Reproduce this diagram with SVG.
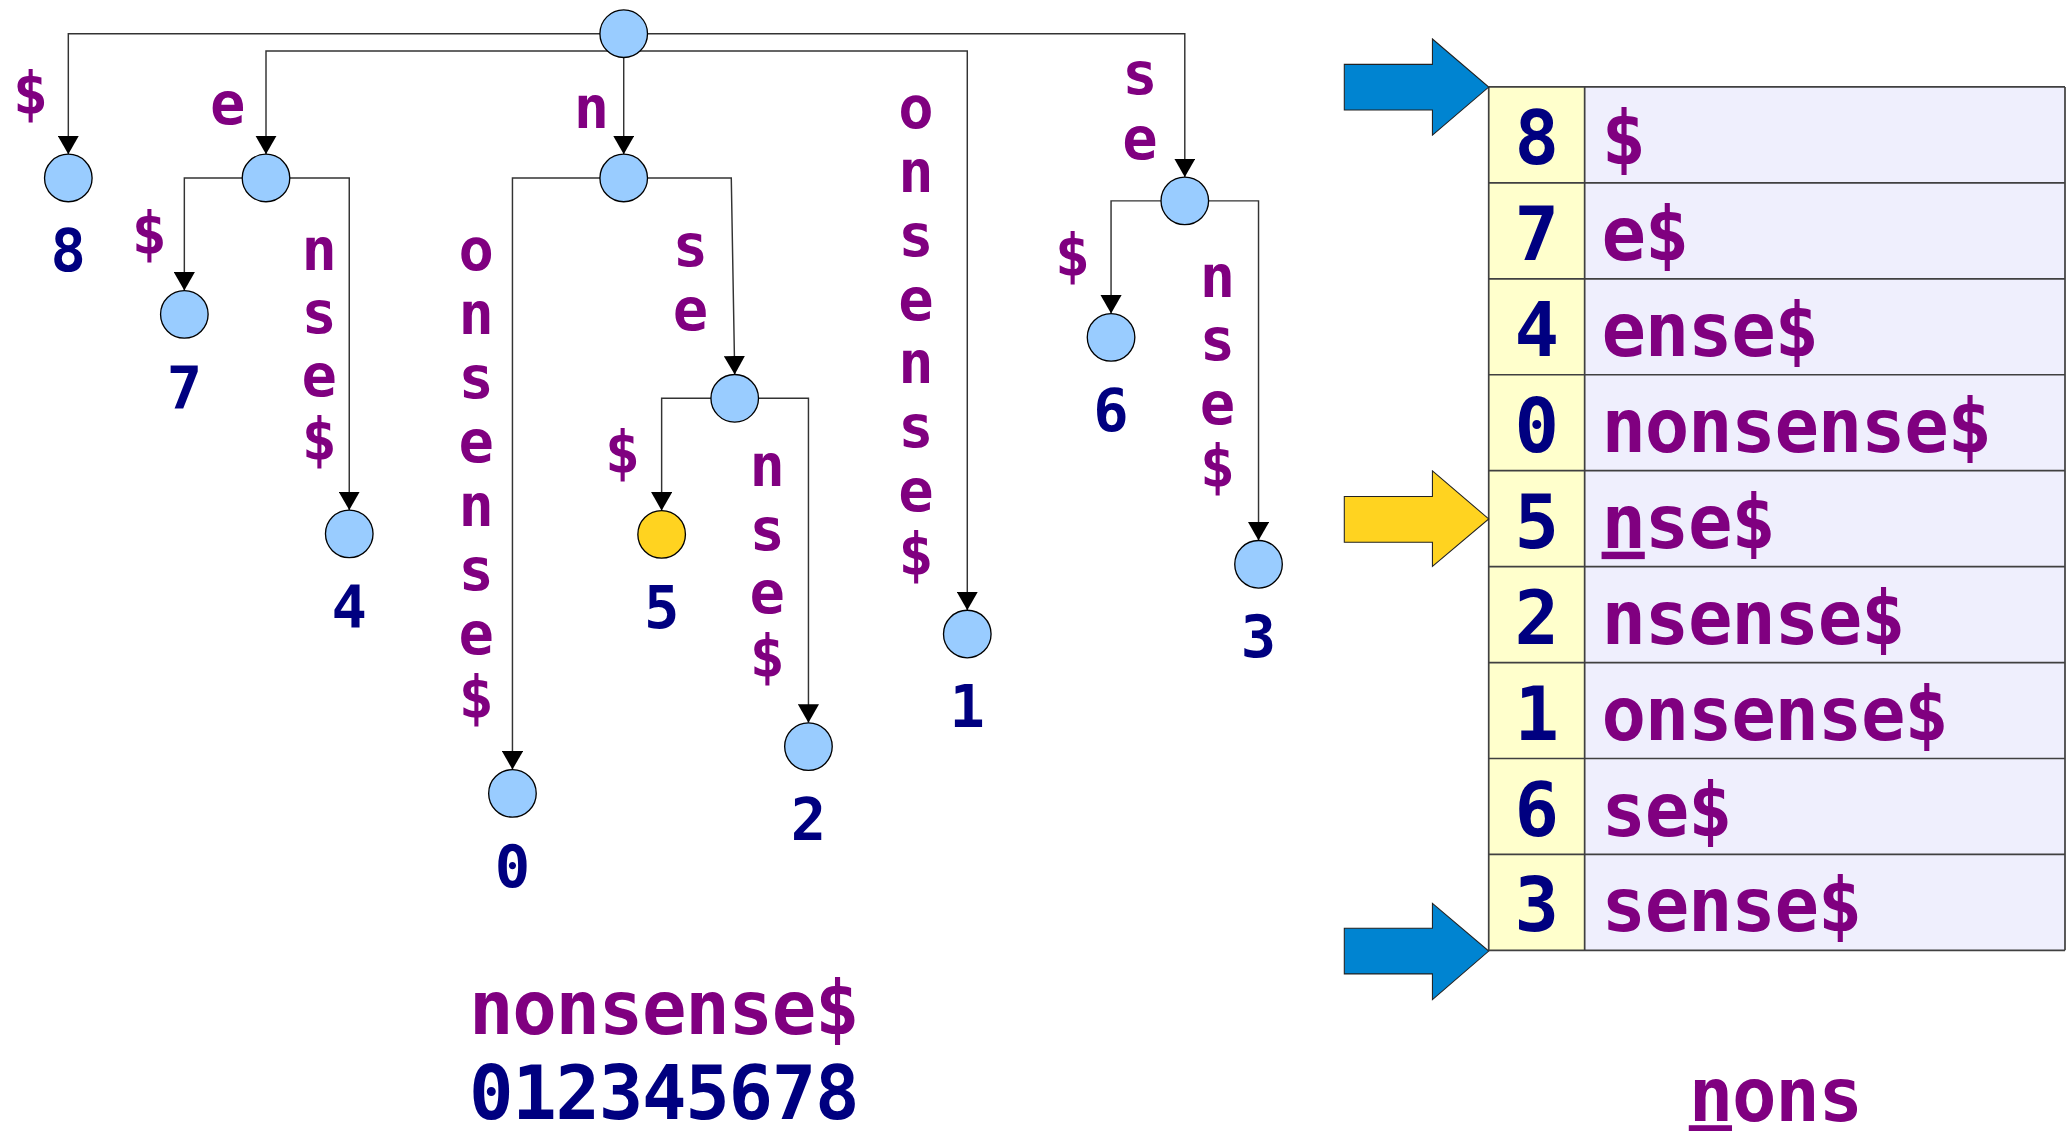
<svg xmlns="http://www.w3.org/2000/svg" width="2072" height="1131" viewBox="0 0 2072 1131">
<style>
text{font-family:"DejaVu Sans Mono","Liberation Mono",monospace;font-weight:bold}
.lbl{fill:#800080;font-size:44.5px;text-anchor:middle}
.num{fill:#000080;font-size:44.5px;text-anchor:middle}
.tnum{fill:#000080;font-size:56px;text-anchor:middle}
.ttxt{fill:#800080;font-size:56px;letter-spacing:-1px}
.big{font-size:56px;letter-spacing:-1px}
.pur{fill:#800080}
.nav{fill:#000080}
.node circle{fill:#99CCFF;stroke:#000;stroke-width:1}
.hl circle{fill:#FFD320}
.edge{fill:none;stroke:#333;stroke-width:1.1;marker-end:url(#ah)}
.grid{stroke:#404040;stroke-width:1.3;fill:none}
.arr{stroke:#222;stroke-width:0.8}
.ul{text-decoration:underline}
</style>
<defs>
<marker id="ah" markerUnits="userSpaceOnUse" markerWidth="14" markerHeight="16" viewBox="0 0 14 16" refX="14" refY="8" orient="auto">
<path d="M0,0 L14,8 L0,16 z" fill="#000"/>
</marker>
</defs>
<rect width="2072" height="1131" fill="#fff"/>
<g transform="scale(1.32143)">
<g id="connectors">
<path class="edge" d="M472,25.5 H51.7 V116.7"/>
<path class="edge" d="M472,38.6 H201.3 V116.7"/>
<path class="edge" d="M472,25.5 V116.7"/>
<path class="edge" d="M472,38.6 H732 V461.8"/>
<path class="edge" d="M472,25.5 H896.6 V134"/>
<path class="edge" d="M201.3,134.7 H139.5 V219.9"/>
<path class="edge" d="M201.3,134.7 H264.3 V386"/>
<path class="edge" d="M472,134.7 H387.8 V582.4"/>
<path class="edge" d="M472,134.7 H553.4 L556,283.4"/>
<path class="edge" d="M556,301.4 H500.7 V386.4"/>
<path class="edge" d="M556,301.4 H611.8 V547"/>
<path class="edge" d="M896.6,152 H840.8 V237.3"/>
<path class="edge" d="M896.6,152 H952.4 V409"/>
</g>
<g id="edge-labels">
<text class="lbl" x="23" y="86">$</text>
<text class="lbl" x="172.3" y="93.5">e</text>
<text class="lbl" x="447.6" y="97">n</text>
<text class="lbl" x="113" y="192">$</text>
<text class="lbl" y="204"><tspan x="241.5">n</tspan><tspan x="241.5" dy="48">s</tspan><tspan x="241.5" dy="48">e</tspan><tspan x="241.5" dy="48">$</tspan></text>
<text class="lbl" y="204"><tspan x="360.4">o</tspan><tspan x="360.4" dy="48.5">n</tspan><tspan x="360.4" dy="48.5">s</tspan><tspan x="360.4" dy="48.5">e</tspan><tspan x="360.4" dy="48.5">n</tspan><tspan x="360.4" dy="48.5">s</tspan><tspan x="360.4" dy="48.5">e</tspan><tspan x="360.4" dy="48.5">$</tspan></text>
<text class="lbl" y="201"><tspan x="522.5">s</tspan><tspan x="522.5" dy="48.5">e</tspan></text>
<text class="lbl" x="471" y="358">$</text>
<text class="lbl" y="367.8"><tspan x="580.5">n</tspan><tspan x="580.5" dy="48.2">s</tspan><tspan x="580.5" dy="48.2">e</tspan><tspan x="580.5" dy="48.2">$</tspan></text>
<text class="lbl" y="97"><tspan x="693.2">o</tspan><tspan x="693.2" dy="48.3">n</tspan><tspan x="693.2" dy="48.3">s</tspan><tspan x="693.2" dy="48.3">e</tspan><tspan x="693.2" dy="48.3">n</tspan><tspan x="693.2" dy="48.3">s</tspan><tspan x="693.2" dy="48.3">e</tspan><tspan x="693.2" dy="48.3">$</tspan></text>
<text class="lbl" y="71.4"><tspan x="862.7">s</tspan><tspan x="862.7" dy="49">e</tspan></text>
<text class="lbl" x="811.5" y="209">$</text>
<text class="lbl" y="224.5"><tspan x="921.3">n</tspan><tspan x="921.3" dy="48">s</tspan><tspan x="921.3" dy="48">e</tspan><tspan x="921.3" dy="48">$</tspan></text>
</g>
<g id="root" class="node"><circle cx="472" cy="25.5" r="18"/></g>
<g id="node-e" class="node"><circle cx="201.3" cy="134.7" r="18"/></g>
<g id="node-n" class="node"><circle cx="472" cy="134.7" r="18"/></g>
<g id="node-nse" class="node"><circle cx="556" cy="301.4" r="18"/></g>
<g id="node-se" class="node"><circle cx="896.6" cy="152" r="18"/></g>
<g id="leaf-8" class="node"><circle cx="51.7" cy="134.7" r="18"/><text class="num" x="51.7" y="205.2">8</text></g>
<g id="leaf-7" class="node"><circle cx="139.5" cy="237.9" r="18"/><text class="num" x="139.5" y="308.4">7</text></g>
<g id="leaf-4" class="node"><circle cx="264.3" cy="404" r="18"/><text class="num" x="264.3" y="474.5">4</text></g>
<g id="leaf-0" class="node"><circle cx="387.8" cy="600.4" r="18"/><text class="num" x="387.8" y="670.9">0</text></g>
<g id="leaf-5" class="node hl"><circle cx="500.7" cy="404.4" r="18"/><text class="num" x="500.7" y="475">5</text></g>
<g id="leaf-2" class="node"><circle cx="611.8" cy="565" r="18"/><text class="num" x="611.8" y="635.6">2</text></g>
<g id="leaf-1" class="node"><circle cx="732" cy="479.8" r="18"/><text class="num" x="732" y="550.3">1</text></g>
<g id="leaf-6" class="node"><circle cx="840.8" cy="255.3" r="18"/><text class="num" x="840.8" y="325.8">6</text></g>
<g id="leaf-3" class="node"><circle cx="952.4" cy="427" r="18"/><text class="num" x="952.4" y="497.5">3</text></g>
<g id="string">
<text class="big pur" x="355" y="782.5">nonsense$</text>
<text class="big nav" x="355" y="846.5">012345678</text>
</g>
<g id="suffix-array">
<rect x="1126.6" y="65.8" width="72.6" height="653.4" fill="#FFFFCC"/>
<rect x="1199.2" y="65.8" width="363.5" height="653.4" fill="#EFEFFD"/>
<path class="grid" d="M1126.6,65.8 H1562.7 M1126.6,138.4 H1562.7 M1126.6,211 H1562.7 M1126.6,283.6 H1562.7 M1126.6,356.2 H1562.7 M1126.6,428.8 H1562.7 M1126.6,501.4 H1562.7 M1126.6,574 H1562.7 M1126.6,646.6 H1562.7 M1126.6,719.2 H1562.7 M1126.6,65.8 V719.2 M1199.2,65.8 V719.2 M1562.7,65.8 V719.2"/>
<text class="tnum" x="1162.9" y="124.1">8</text><text class="ttxt" x="1212" y="124.1">$</text>
<text class="tnum" x="1162.9" y="196.7">7</text><text class="ttxt" x="1212" y="196.7">e$</text>
<text class="tnum" x="1162.9" y="269.3">4</text><text class="ttxt" x="1212" y="269.3">ense$</text>
<text class="tnum" x="1162.9" y="341.9">0</text><text class="ttxt" x="1212" y="341.9">nonsense$</text>
<text class="tnum" x="1162.9" y="414.5">5</text><text class="ttxt" x="1212" y="414.5"><tspan class="ul">n</tspan>se$</text>
<text class="tnum" x="1162.9" y="487.1">2</text><text class="ttxt" x="1212" y="487.1">nsense$</text>
<text class="tnum" x="1162.9" y="559.7">1</text><text class="ttxt" x="1212" y="559.7">onsense$</text>
<text class="tnum" x="1162.9" y="632.3">6</text><text class="ttxt" x="1212" y="632.3">se$</text>
<text class="tnum" x="1162.9" y="704.9">3</text><text class="ttxt" x="1212" y="704.9">sense$</text>
</g>
<g id="arrow-top"><polygon class="arr" fill="#0084D1" points="1017.3,48.7 1084,48.7 1084,29.5 1126.6,65.9 1084,102.3 1084,83.3 1017.3,83.3"/></g>
<g id="arrow-mid"><polygon class="arr" fill="#FFD320" points="1017.3,375.7 1084,375.7 1084,356.4 1126.6,392.7 1084,428.6 1084,410.3 1017.3,410.3"/></g>
<g id="arrow-bottom"><polygon class="arr" fill="#0084D1" points="1017.3,702.4 1084,702.4 1084,683.7 1126.6,719.7 1084,756.4 1084,737 1017.3,737"/></g>
<g id="pattern"><text class="big pur" x="1278" y="848.5"><tspan class="ul">n</tspan>ons</text></g>
</g>
</svg>
